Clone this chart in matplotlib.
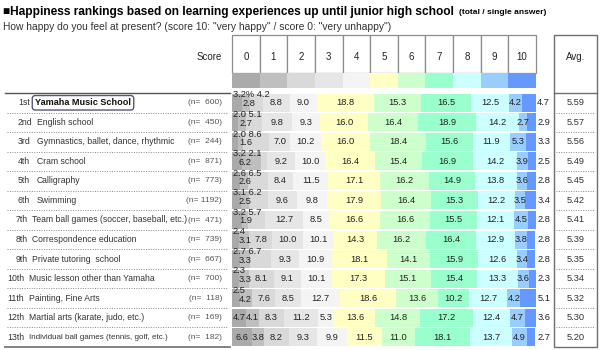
import matplotlib.pyplot as plt
from matplotlib.patches import Rectangle

# ---- data ----
ranks = ["1st", "2nd", "3rd", "4th", "5th", "6th", "7th", "8th", "9th",
         "10th", "11th", "12th", "13th"]
lessons = ["Yamaha Music School", "English school",
           "Gymnastics, ballet, dance, rhythmic", "Cram school", "Calligraphy",
           "Swimming", "Team ball games (soccer, baseball, etc.)",
           "Correspondence education", "Private tutoring  school",
           "Music lesson other than Yamaha", "Painting, Fine Arts",
           "Martial arts (karate, judo, etc.)",
           "Individual ball games (tennis, golf, etc.)"]
n_sizes = [600, 450, 244, 871, 773, 1192, 471, 739, 667, 700, 118, 169, 182]
averages = ["5.59", "5.57", "5.56", "5.49", "5.45", "5.42", "5.41", "5.39",
            "5.35", "5.34", "5.32", "5.30", "5.20"]
scores = list(range(11))
# share (%) answering score 0..10, one list per lesson
shares = [
    [3.2, 2.8, 4.2, 8.8, 9.0, 18.8, 15.3, 16.5, 12.5, 4.2, 4.7],
    [2.0, 2.7, 5.1, 9.8, 9.3, 16.0, 16.4, 18.9, 14.2, 2.7, 2.9],
    [2.0, 1.6, 8.6, 7.0, 10.2, 16.0, 18.4, 15.6, 11.9, 5.3, 3.3],
    [3.2, 6.2, 2.1, 9.2, 10.0, 16.4, 15.4, 16.9, 14.2, 3.9, 2.5],
    [2.6, 2.6, 6.5, 8.4, 11.5, 17.1, 16.2, 14.9, 13.8, 3.6, 2.8],
    [3.1, 2.5, 6.2, 9.6, 9.8, 17.9, 16.4, 15.3, 12.2, 3.5, 3.4],
    [3.2, 1.9, 5.7, 12.7, 8.5, 16.6, 16.6, 15.5, 12.1, 4.5, 2.8],
    [2.4, 3.1, 7.8, 10.0, 10.1, 14.3, 16.2, 16.4, 12.9, 3.8, 2.8],
    [2.7, 3.3, 6.7, 9.3, 10.9, 18.1, 14.1, 15.9, 12.6, 3.4, 2.8],
    [2.3, 3.3, 8.1, 9.1, 10.1, 17.3, 15.1, 15.4, 13.3, 3.6, 2.3],
    [2.5, 4.2, 7.6, 8.5, 12.7, 18.6, 13.6, 10.2, 12.7, 4.2, 5.1],
    [4.7, 4.1, 8.3, 11.2, 5.3, 13.6, 14.8, 17.2, 12.4, 4.7, 3.6],
    [6.6, 3.8, 8.2, 9.3, 9.9, 11.5, 11.0, 18.1, 13.7, 4.9, 2.7],
]
colors = ['#aaaaaa', '#bfbfbf', '#d9d9d9', '#e6e6e6', '#f4f4f4', '#ffffc4',
          '#ccffcc', '#99ffcc', '#ccffff', '#99ccff', '#6699ff']

W, H = 600, 350
NUM_FONT = 'Liberation Sans'
LBL_FONT = 'Liberation Sans'

# layout in pixels
bar_x0, bar_x1 = 232, 536
rows_top, rows_bot = 93, 347
hdr_top, hdr_bot, sw_bot = 35, 73, 88
avg_x0, avg_x1 = 554, 597
nrow = len(lessons)
row_h = (rows_bot - rows_top) / nrow


def px_axes(fig, x0, y0, x1, y1):
    return fig.add_axes([x0 / W, 1 - y1 / H, (x1 - x0) / W, (y1 - y0) / H])


fig = plt.figure(figsize=(6, 3.5), dpi=100)

# background axes in pixel coordinates for text and table lines
bg = px_axes(fig, 0, 0, W, H)
bg.set_xlim(0, W)
bg.set_ylim(H, 0)
bg.axis('off')

title = bg.text(3, 12, "\u25a0Happiness rankings based on learning experiences up until junior high school",
                fontsize=8.6, fontweight='bold', family=[LBL_FONT, 'DejaVu Sans'],
                va='center', ha='left')
bg.annotate("(total / single answer)", xy=(1, 0.45), xycoords=title,
            xytext=(4, 0), textcoords='offset points', fontsize=6.0,
            fontweight='bold', family=LBL_FONT, va='center', ha='left')
bg.text(3, 27, 'How happy do you feel at present? (score 10: "very happy" / score 0: "very unhappy")',
        fontsize=7.4, family=LBL_FONT, color='#333333', va='center', ha='left')

# header: score boxes
col_w = (bar_x1 - bar_x0) / len(scores)
for k in scores:
    bg.add_patch(Rectangle((bar_x0 + k * col_w, hdr_top), col_w, hdr_bot - hdr_top,
                           fc='white', ec='#8c8c8c', lw=0.9))
    bg.text(bar_x0 + (k + 0.5) * col_w, 57, str(k), fontsize=7, family=NUM_FONT,
            ha='center', va='center', color='#222222')
bg.text(222, 57, "Score", fontsize=7, family=NUM_FONT, ha='right', va='center',
        color='#222222')

# colour swatches under the score boxes
sw = px_axes(fig, bar_x0, hdr_bot, bar_x1, sw_bot)
sw.bar(scores, [1] * len(scores), width=1, color=colors, edgecolor='none')
sw.set_xlim(-0.5, len(scores) - 0.5)
sw.set_ylim(0, 1)
sw.axis('off')

# avg column
bg.add_patch(Rectangle((avg_x0, hdr_top), avg_x1 - avg_x0, rows_bot - hdr_top,
                       fc='none', ec='#6e6e6e', lw=1.0))
bg.plot([avg_x0, avg_x1], [rows_top, rows_top], color='#6e6e6e', lw=1.0)
bg.text((avg_x0 + avg_x1) / 2, 57, "Avg.", fontsize=7, family=NUM_FONT,
        ha='center', va='center', color='#222222')

# left table lines
bg.plot([5, 230], [rows_top, rows_top], color='#555555', lw=1.0)
bg.plot([5, 230], [rows_bot, rows_bot], color='#777777', lw=1.3)
for i in range(1, nrow):
    y = rows_top + i * row_h
    bg.plot([7, 228], [y, y], color='#888888', lw=0.7, ls=(0, (1, 1.5)))
    bg.plot([avg_x0 + 2, avg_x1 - 2], [y, y], color='#888888', lw=0.7, ls=(0, (1, 1.5)))

# row labels
for i in range(nrow):
    y = rows_top + (i + 0.5) * row_h
    rx = 18 if i < 6 else (16 if i < 9 else 7)
    nx = 37 if i < 6 else (32 if i < 9 else 29)
    fs = 6.2 if i < nrow - 1 else 5.8
    bg.text(rx, y, ranks[i], fontsize=6.3, family=LBL_FONT, ha='left',
            va='center', color='#333333')
    if i == 0:
        bg.text(nx - 2, y, lessons[i], fontsize=6.6, fontweight='bold',
                family=LBL_FONT, ha='left', va='center', color='#111111',
                bbox=dict(boxstyle='round,pad=0.3,rounding_size=0.35',
                          fc='white', ec='#55577a', lw=1.0))
    else:
        bg.text(nx, y, lessons[i], fontsize=fs, family=LBL_FONT, ha='left',
                va='center', color='#333333')
    bg.text(222, y, "(n=%5s)" % n_sizes[i], fontsize=6, family=LBL_FONT,
            ha='right', va='center', color='#555555')
    bg.text((avg_x0 + avg_x1) / 2, y, averages[i], fontsize=6.7,
            family=NUM_FONT, ha='center', va='center', color='#333333')

# stacked bars
ax = px_axes(fig, bar_x0, rows_top, bar_x1, rows_bot)
ax.set_xlim(0, 100)
ax.set_ylim(nrow - 0.5, -0.5)
ax.axis('off')

lefts = [0.0] * nrow
for k in scores:
    vals = [row[k] for row in shares]
    ax.barh(range(nrow), vals, left=lefts, height=0.92, color=colors[k],
            edgecolor='none')
    lefts = [a + b for a, b in zip(lefts, vals)]

txt_kw = dict(fontsize=6.7, family=NUM_FONT, color='#222222', clip_on=False)
for i, row in enumerate(shares):
    labels = ["%.1f" % v for v in row]
    if i == 0:
        labels[0] += "%"
    # small first segments: stack the labels above / below each other
    stagger = row[0] < 4
    seg2_up = stagger and (row[2] < 7 or row[1] < 2)
    start = 0.0
    for k, v in enumerate(row):
        if stagger and k < 2 or seg2_up and k == 2:
            start += v
            continue
        if k == 10:
            ax.text(100.4, i, labels[k], ha='left', va='center', **txt_kw)
        else:
            ax.text(start + v / 2, i, labels[k], ha='center', va='center', **txt_kw)
        start += v
    if stagger:
        top = labels[0] + (" " + labels[2] if seg2_up else "")
        tt = ax.text(0.2, i - 0.4, top, ha='left', va='center', **txt_kw)
        ax.annotate(labels[1], xy=(0.45 if seg2_up else 1.0, i + 0.05),
                    xycoords=(tt, 'data'), ha='center', va='center',
                    annotation_clip=False, **txt_kw)

fig.savefig("out.png", dpi=100)
